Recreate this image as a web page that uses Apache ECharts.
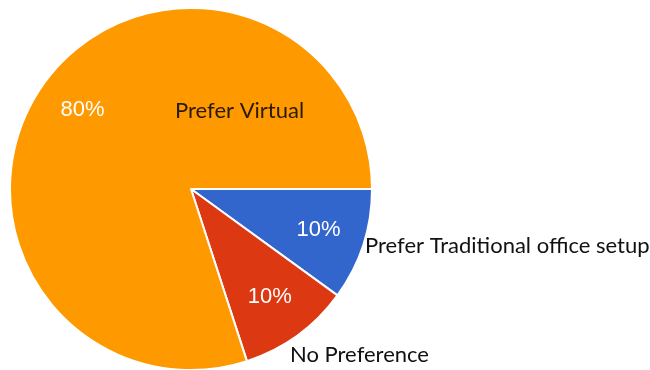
<!DOCTYPE html>
<html>
<head>
<meta charset="utf-8">
<script src="https://cdn.jsdelivr.net/npm/echarts@6/dist/echarts.min.js"></script>
<style>
html,body{margin:0;padding:0;background:#fff;}
#c{width:650px;height:370px;}
</style>
</head>
<body>
<div id="c"></div>
<script>
var categories = ['Prefer Traditional office setup', 'No Preference', 'Prefer Virtual'];
var values = [10, 10, 80];
var colors = ['#3366CC', '#DC3912', '#FF9900'];

var chart = echarts.init(document.getElementById('c'), null, {renderer: 'canvas'});
var data = categories.map(function (n, i) {
  return {name: n, value: values[i], itemStyle: {color: colors[i]}};
});
var center = [191, 189];
var nameFont = 'Lato, "Liberation Sans", sans-serif';
function nameText(i, x, y, fill) {
  return {
    type: 'text', x: x, y: y, z: 100,
    style: {text: categories[i], fill: fill, font: '22px ' + nameFont, verticalAlign: 'middle', align: 'left'}
  };
}
chart.setOption({
  animation: false,
  series: [
    {
      type: 'pie',
      center: center,
      radius: [0, 181],
      startAngle: 0,
      clockwise: true,
      silent: true,
      itemStyle: {borderColor: '#fff', borderWidth: 2},
      label: {show: false},
      labelLine: {show: false},
      data: data
    },
    {
      type: 'pie',
      center: center,
      radius: [0, 262],
      startAngle: 0,
      clockwise: true,
      silent: true,
      itemStyle: {color: 'transparent', borderWidth: 0},
      label: {
        show: true,
        position: 'inside',
        formatter: '{d}%',
        color: '#fff',
        fontFamily: '"Liberation Sans", Arial, sans-serif',
        fontSize: 22
      },
      labelLine: {show: false},
      data: categories.map(function (n, i) { return {name: n, value: values[i]}; })
    }
  ],
  graphic: [
    nameText(2, 175, 111, '#2a1a0a'),
    nameText(0, 365, 246, '#111'),
    nameText(1, 290, 355, '#111')
  ]
});
</script>
</body>
</html>
